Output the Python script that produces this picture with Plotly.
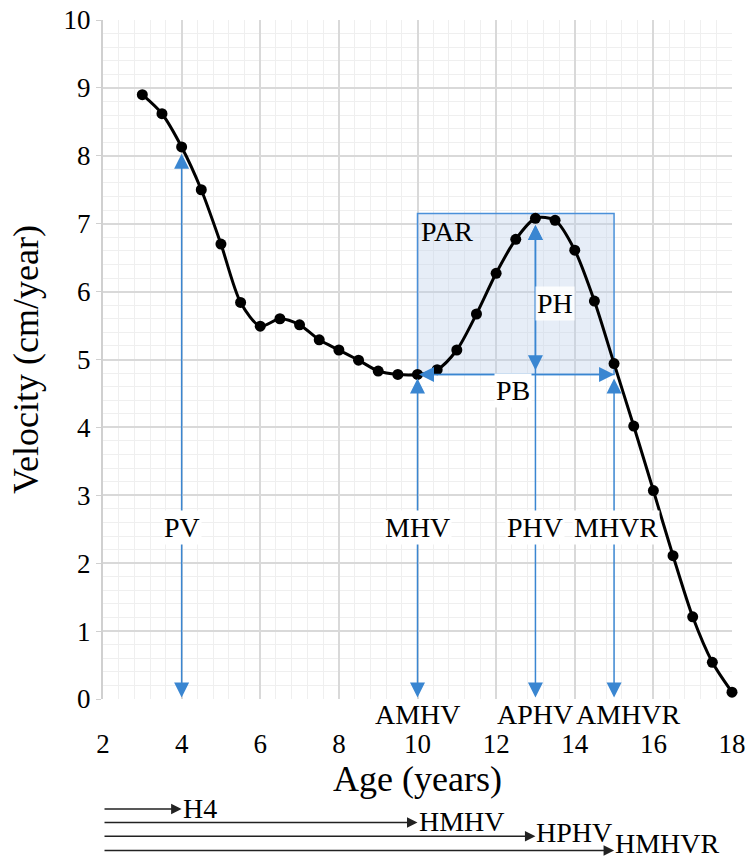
import plotly.graph_objects as go

# ---- data ----
age = [3, 3.5, 4, 4.5, 5, 5.5, 6, 6.5, 7, 7.5, 8, 8.5, 9, 9.5, 10, 10.5,
       11, 11.5, 12, 12.5, 13, 13.5, 14, 14.5, 15, 15.5, 16, 16.5, 17, 17.5, 18]
velocity = [8.9, 8.62, 8.13, 7.5, 6.7, 5.84, 5.49, 5.6, 5.51, 5.29, 5.14, 4.99,
            4.83, 4.78, 4.78, 4.85, 5.14, 5.67, 6.27, 6.77, 7.08, 7.05, 6.61,
            5.86, 4.94, 4.02, 3.07, 2.11, 1.21, 0.54, 0.1]

# vertical markers: (label, x, top)
v_labels = ["PV", "MHV", "PHV", "MHVR"]
v_x = [4, 10, 13, 15]
v_top = [8.03, 4.72, 6.98, 4.72]
v_label_x = [4, 10, 13, 15.05]
v_label_y = 2.53

age_labels = ["AMHV", "APHV", "AMHVR"]
age_label_x = [10, 13, 15.36]

h_labels = ["H4", "HMHV", "HPHV", "HMHVR"]
h_x = [4, 10, 13, 15]

mhv = 4.78
peak_top = 7.15

FONT = "Liberation Serif"
BLUE = "#3a86d1"
fs = 28

fig = go.Figure()
fig.add_trace(go.Scatter(
    x=age, y=velocity, mode="lines+markers",
    line=dict(color="black", width=3, shape="spline", smoothing=0.8),
    marker=dict(color="black", size=11),
    cliponaxis=False, showlegend=False, hoverinfo="skip"))

# PAR rectangle
fig.add_shape(type="rect", x0=v_x[1], x1=v_x[3], y0=mhv, y1=peak_top,
              xref="x", yref="y", layer="between",
              line=dict(color="#4a90d9", width=1.5),
              fillcolor="rgba(190,208,235,0.38)")

ann = []
def arrow(x, y, ax, ay, color=BLUE, both=True, width=1.5, size=2.0, xref="x", yref="y", ayref="y"):
    ann.append(dict(x=x, y=y, ax=ax, ay=ay, xref=xref, yref=yref, axref="x", ayref=ayref,
                    showarrow=True, arrowhead=2, startarrowhead=2,
                    arrowside="end+start" if both else "end",
                    arrowsize=size, startarrowsize=size, arrowwidth=width,
                    arrowcolor=color, standoff=0, startstandoff=0, text=""))

for lab, x, top, lx in zip(v_labels, v_x, v_top, v_label_x):
    arrow(x, top, x, 0)
    ann.append(dict(x=lx, y=v_label_y, xref="x", yref="y", text=lab, showarrow=False,
                    bgcolor="white", font=dict(family=FONT, size=fs, color="black"),
                    borderpad=1))

# PH arrow
arrow(v_x[2], 6.98, v_x[2], 4.82)
# PB arrow
arrow(v_x[3], mhv, v_x[1], mhv)

ann.append(dict(x=10.75, y=6.88, xref="x", yref="y", text="PAR", showarrow=False,
                font=dict(family=FONT, size=fs, color="black")))
ann.append(dict(x=13.5, y=5.83, xref="x", yref="y", text="PH", showarrow=False,
                bgcolor="rgba(255,255,255,0.85)", font=dict(family=FONT, size=fs, color="black")))
ann.append(dict(x=12.43, y=4.55, xref="x", yref="y", text="PB", showarrow=False,
                bgcolor="white", font=dict(family=FONT, size=fs, color="black")))

for lab, x in zip(age_labels, age_label_x):
    ann.append(dict(x=x, y=-0.023, xref="x", yref="paper", text=lab, showarrow=False,
                    yanchor="middle",
                    font=dict(family=FONT, size=fs, color="black")))

h_y = [-0.162, -0.182, -0.202, -0.223]
h_ty = [-0.161, -0.181, -0.197, -0.213]
for lab, x, y, ty in zip(h_labels, h_x, h_y, h_ty):
    arrow(x, y, 2, 0, color="#222222", both=False, width=1.5, size=1.4,
          xref="x", yref="paper", ayref="pixel")
    ann.append(dict(x=x, y=ty, xref="x", yref="paper", text=lab, showarrow=False,
                    xanchor="left", yanchor="middle", borderpad=0,
                    font=dict(family=FONT, size=fs, color="black")))

fig.update_layout(
    width=748, height=860,
    margin=dict(l=103, r=16, t=20, b=161, autoexpand=False),
    paper_bgcolor="white", plot_bgcolor="white",
    annotations=ann,
    font=dict(family=FONT, size=fs, color="black"),
    xaxis=dict(range=[2, 18], dtick=2, tick0=2, showgrid=True, automargin=False,
               gridcolor="#d9d9d9", gridwidth=1.5, zeroline=False,
               showline=False, ticks="", ticklabelstandoff=26,
               tickfont=dict(family=FONT, size=27),
               minor=dict(dtick=0.4, tick0=2, showgrid=True, gridcolor="#efefef", gridwidth=1),
               title=dict(text="Age (years)", font=dict(family=FONT, size=36), standoff=2)),
    yaxis=dict(range=[0, 10], dtick=1, showgrid=True, automargin=False,
               gridcolor="#d9d9d9", gridwidth=1.5, zeroline=False,
               showline=True, linecolor="#d0d0d0", linewidth=2,
               ticks="outside", ticklen=5, tickcolor="#d0d0d0",
               tickfont=dict(family=FONT, size=27),
               minor=dict(dtick=0.2, showgrid=True, gridcolor="#efefef", gridwidth=1),
               title=dict(text="Velocity (cm/year)", font=dict(family=FONT, size=36), standoff=14)),
)

fig.write_html("out.html", config={"displayModeBar": False},
               post_script="document.body.style.margin='0px';")
